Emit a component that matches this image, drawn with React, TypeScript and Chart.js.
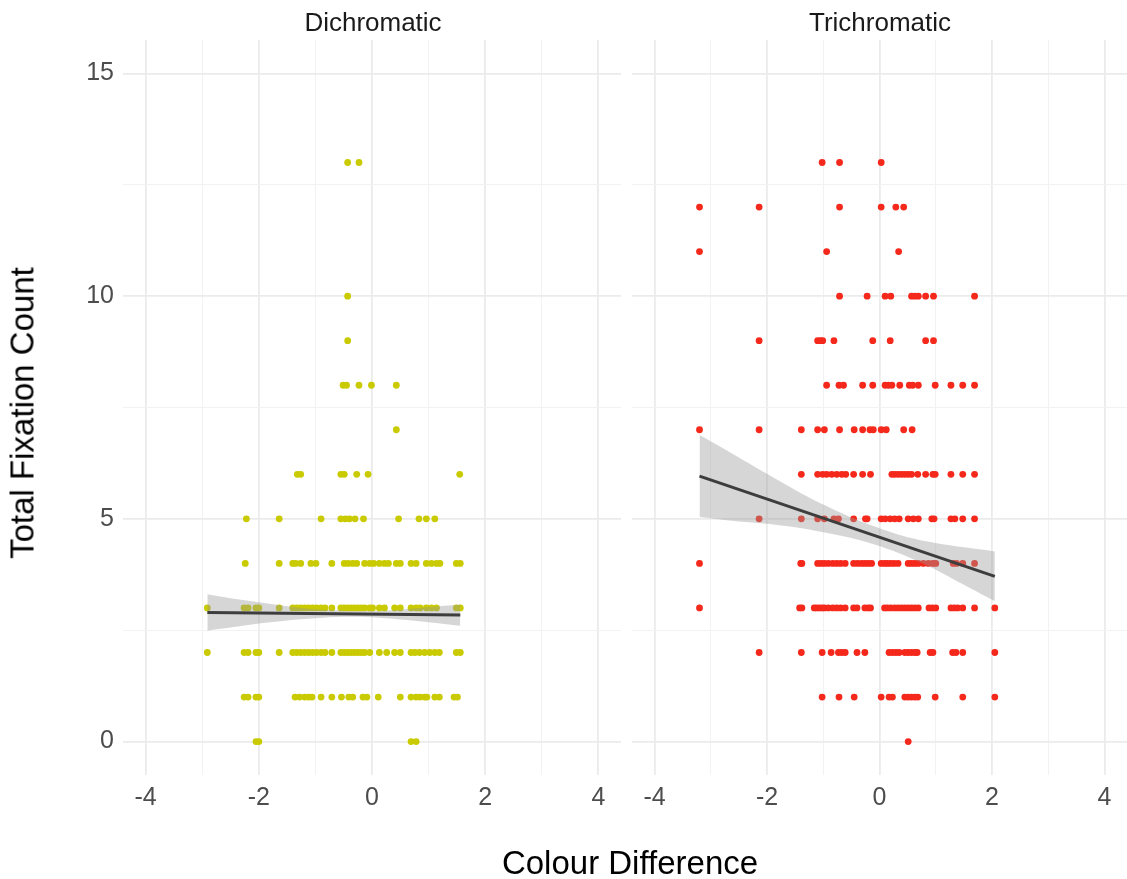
import React, { useEffect, useRef } from "react";
import { Chart, registerables } from "chart.js";

Chart.register(...registerables);

// ---------- data ----------
const xTickLabels = [-4, -2, 0, 2, 4];
const yTickLabels = [0, 5, 10, 15];
const panelTitles = ["Dichromatic", "Trichromatic"];

// Total fixation count levels (y) and the colour-difference values (x) of each point on that level
const fixationLevels = [0, 1, 2, 3, 4, 5, 6, 7, 8, 9, 10, 11, 12, 13];

const dichromaticX: number[][] = [
  [-2.05, -2.0, 0.69, 0.78],
  [-2.26, -2.19, -2.05, -2.0, -1.36, -1.28, -1.19, -1.12, -1.06, -0.9, -0.71, -0.54, -0.41, -0.34, -0.16, -0.09, 0.11, 0.5, 0.69, 0.78, 0.85, 0.93, 0.97, 1.11, 1.19, 1.45, 1.51],
  [-2.91, -2.26, -2.19, -2.05, -2.0, -1.64, -1.4, -1.33, -1.26, -1.19, -1.12, -1.05, -0.98, -0.9, -0.83, -0.71, -0.55, -0.49, -0.43, -0.37, -0.31, -0.25, -0.19, -0.13, -0.04, 0.13, 0.26, 0.4, 0.5, 0.69, 0.76, 0.84, 0.93, 1.02, 1.11, 1.19, 1.49, 1.56],
  [-2.91, -2.26, -2.19, -2.05, -2.0, -1.64, -1.4, -1.33, -1.26, -1.19, -1.12, -1.05, -0.98, -0.9, -0.83, -0.71, -0.55, -0.49, -0.43, -0.37, -0.31, -0.25, -0.19, -0.13, -0.04, 0.01, 0.13, 0.22, 0.4, 0.5, 0.69, 0.78, 0.85, 0.96, 1.05, 1.14, 1.49, 1.56],
  [-2.24, -1.64, -1.4, -1.35, -1.26, -1.08, -0.99, -0.71, -0.49, -0.42, -0.34, -0.27, -0.13, -0.04, 0.03, 0.13, 0.22, 0.29, 0.43, 0.5, 0.69, 0.78, 0.96, 1.05, 1.14, 1.2, 1.49, 1.56],
  [-2.22, -1.64, -0.9, -0.55, -0.47, -0.4, -0.3, -0.15, 0.47, 0.83, 0.96, 1.11],
  [-1.32, -1.26, -0.55, -0.49, -0.27, -0.07, 1.55],
  [0.43],
  [-0.51, -0.45, -0.23, -0.01, 0.43],
  [-0.43],
  [-0.43],
  [],
  [],
  [-0.43, -0.23],
];

const trichromaticX: number[][] = [
  [0.51],
  [-1.02, -0.72, -0.45, 0.03, 0.17, 0.23, 0.45, 0.51, 0.57, 0.63, 0.68, 0.99, 1.48, 2.05],
  [-2.14, -1.39, -1.02, -0.86, -0.73, -0.67, -0.61, -0.4, -0.26, 0.17, 0.23, 0.29, 0.35, 0.45, 0.51, 0.57, 0.63, 0.67, 0.9, 0.95, 1.3, 1.36, 1.48, 2.05],
  [-3.2, -1.42, -1.38, -1.16, -1.12, -1.07, -1.02, -0.98, -0.91, -0.83, -0.76, -0.69, -0.61, -0.46, -0.4, -0.26, -0.2, -0.16, 0.09, 0.14, 0.2, 0.27, 0.33, 0.39, 0.45, 0.51, 0.57, 0.63, 0.69, 0.88, 0.94, 1.0, 1.27, 1.33, 1.39, 1.48, 1.69, 2.05],
  [-3.2, -1.4, -1.38, -1.1, -1.04, -0.98, -0.91, -0.83, -0.76, -0.69, -0.61, -0.46, -0.39, -0.32, -0.26, -0.2, -0.14, 0.03, 0.09, 0.14, 0.2, 0.26, 0.33, 0.51, 0.57, 0.63, 0.69, 0.78, 0.87, 0.95, 1.0, 1.31, 1.37, 1.48, 1.69],
  [-2.14, -1.39, -1.1, -0.98, -0.81, -0.73, -0.46, -0.25, -0.22, 0.03, 0.1, 0.19, 0.27, 0.35, 0.51, 0.6, 0.69, 0.93, 0.97, 1.27, 1.34, 1.48, 1.69],
  [-1.39, -1.1, -1.01, -0.94, -0.85, -0.76, -0.67, -0.6, -0.46, -0.3, -0.16, 0.22, 0.27, 0.33, 0.39, 0.45, 0.51, 0.57, 0.68, 0.82, 0.95, 0.99, 1.27, 1.48, 1.69],
  [-3.2, -2.14, -1.39, -1.1, -0.98, -0.71, -0.45, -0.3, -0.17, -0.11, 0.03, 0.12, 0.43, 0.58],
  [-0.94, -0.72, -0.64, -0.3, -0.12, 0.1, 0.16, 0.22, 0.36, 0.53, 0.59, 0.69, 0.99, 1.27, 1.48, 1.69],
  [-2.14, -1.1, -1.05, -1.01, -0.81, -0.12, 0.19, 0.82, 0.96],
  [-0.71, -0.22, 0.1, 0.2, 0.57, 0.63, 0.69, 0.82, 0.96, 1.69],
  [-3.2, -0.94, 0.34],
  [-3.2, -2.14, -0.71, 0.03, 0.29, 0.43],
  [-1.02, -0.71, 0.03],
];

// fitted linear trend (endpoints) and its confidence band
const dichromaticFitX = [-2.91, 1.56];
const dichromaticFitY = [2.9, 2.84];
const dichromaticBandX = [-2.91, -2.5, -2, -1.5, -1, -0.5, 0, 0.5, 1, 1.56];
const dichromaticBandUpper = [3.31, 3.22, 3.13, 3.04, 2.97, 2.94, 2.93, 2.96, 3.02, 3.08];
const dichromaticBandLower = [2.49, 2.56, 2.65, 2.72, 2.77, 2.8, 2.79, 2.74, 2.68, 2.6];

const trichromaticFitX = [-3.2, 2.05];
const trichromaticFitY = [5.96, 3.71];
const trichromaticBandX = [-3.2, -2.5, -2, -1.5, -1, -0.5, 0, 0.5, 1, 1.5, 2.05];
const trichromaticBandUpper = [6.88, 6.38, 6.01, 5.65, 5.32, 5.03, 4.79, 4.59, 4.46, 4.36, 4.27];
const trichromaticBandLower = [5.04, 4.94, 4.89, 4.81, 4.7, 4.57, 4.39, 4.15, 3.86, 3.52, 3.15];

// ---------- styling ----------
const FONT = "'Liberation Sans', Arial, Helvetica, sans-serif";
const GRID_MAJOR = "#EBEBEB";
const GRID_MINOR = "#F2F2F2";

type PanelProps = {
  left: number;
  width: number;
  yAxisWidth: number;
  showYLabels: boolean;
  xs: number[][];
  color: string;
  fitX: number[];
  fitY: number[];
  bandX: number[];
  bandUpper: number[];
  bandLower: number[];
};

function Panel(p: PanelProps) {
  const ref = useRef<HTMLCanvasElement | null>(null);
  useEffect(() => {
    if (!ref.current) return;
    const points: { x: number; y: number }[] = [];
    p.xs.forEach((row, i) => row.forEach((x) => points.push({ x, y: fixationLevels[i] })));
    const chart = new Chart(ref.current, {
      type: "scatter",
      data: {
        datasets: [
          {
            type: "line",
            data: p.fitX.map((x, i) => ({ x, y: p.fitY[i] })),
            borderColor: "#3D3D3D",
            borderWidth: 3,
            pointRadius: 0,
            showLine: true,
            fill: false,
          } as any,
          {
            type: "line",
            data: p.bandX.map((x, i) => ({ x, y: p.bandUpper[i] })),
            borderWidth: 0,
            borderColor: "rgba(0,0,0,0)",
            backgroundColor: "rgba(153,153,153,0.4)",
            pointRadius: 0,
            showLine: true,
            tension: 0.3,
            fill: "+1",
          } as any,
          {
            type: "line",
            data: p.bandX.map((x, i) => ({ x, y: p.bandLower[i] })),
            borderWidth: 0,
            borderColor: "rgba(0,0,0,0)",
            pointRadius: 0,
            showLine: true,
            tension: 0.3,
            fill: false,
          } as any,
          {
            type: "scatter",
            data: points,
            backgroundColor: p.color,
            borderWidth: 0,
            pointRadius: 3.4,
          } as any,
        ],
      },
      options: {
        animation: false,
        responsive: false,
        maintainAspectRatio: false,
        layout: { padding: { top: 40, left: 0, right: 0, bottom: 0 } },
        plugins: { legend: { display: false }, tooltip: { enabled: false }, title: { display: false } },
        scales: {
          x: {
            type: "linear",
            min: -4.4,
            max: 4.4,
            afterFit: (s: any) => {
              s.height = 104;
            },
            border: { display: false },
            grid: {
              drawTicks: false,
              color: (c: any) => (c.tick && Math.abs(c.tick.value % 2) < 1e-6 ? GRID_MAJOR : GRID_MINOR),
              lineWidth: (c: any) => (c.tick && Math.abs(c.tick.value % 2) < 1e-6 ? 1.8 : 1),
            },
            ticks: {
              stepSize: 1,
              includeBounds: false,
              autoSkip: false,
              maxRotation: 0,
              padding: 8,
              color: "#4D4D4D",
              font: { family: FONT, size: 25 },
              callback: (v: any) => (xTickLabels.includes(Number(v)) ? String(v) : ""),
            },
          },
          y: {
            type: "linear",
            min: -0.75,
            max: 15.75,
            afterFit: (s: any) => {
              s.width = p.yAxisWidth;
            },
            border: { display: false },
            grid: {
              drawTicks: false,
              color: (c: any) => (c.tick && Math.abs(c.tick.value % 5) < 1e-6 ? GRID_MAJOR : GRID_MINOR),
              lineWidth: (c: any) => (c.tick && Math.abs(c.tick.value % 5) < 1e-6 ? 1.8 : 1),
            },
            ticks: {
              display: p.showYLabels,
              stepSize: 2.5,
              includeBounds: false,
              autoSkip: false,
              padding: 9,
              color: "#4D4D4D",
              font: { family: FONT, size: 25 },
              callback: (v: any) => (yTickLabels.includes(Number(v)) ? String(v) : ""),
            },
          },
        },
      } as any,
    });
    return () => chart.destroy();
  }, []);
  return (
    <canvas
      ref={ref}
      width={p.width}
      height={879}
      style={{ position: "absolute", left: p.left, top: 0, width: p.width, height: 879, display: "block" }}
    />
  );
}

const textBase: React.CSSProperties = {
  position: "absolute",
  fontFamily: FONT,
  whiteSpace: "nowrap",
  lineHeight: 1,
};

export default function App() {
  return (
    <div style={{ position: "absolute", left: 0, top: 0, width: 1127, height: 879, background: "#FFFFFF", overflow: "hidden" }}>
      <Panel
        left={0}
        width={625}
        yAxisWidth={123}
        showYLabels={true}
        xs={dichromaticX}
        color="#C9CB00"
        fitX={dichromaticFitX}
        fitY={dichromaticFitY}
        bandX={dichromaticBandX}
        bandUpper={dichromaticBandUpper}
        bandLower={dichromaticBandLower}
      />
      <Panel
        left={627}
        width={504}
        yAxisWidth={5}
        showYLabels={false}
        xs={trichromaticX}
        color="#F5281C"
        fitX={trichromaticFitX}
        fitY={trichromaticFitY}
        bandX={trichromaticBandX}
        bandUpper={trichromaticBandUpper}
        bandLower={trichromaticBandLower}
      />
      <div style={{ ...textBase, left: 373, top: 22, fontSize: 26, color: "#1A1A1A", transform: "translate(-50%,-50%)" }}>
        {panelTitles[0]}
      </div>
      <div style={{ ...textBase, left: 880, top: 22, fontSize: 26, color: "#1A1A1A", transform: "translate(-50%,-50%)" }}>
        {panelTitles[1]}
      </div>
      <div style={{ ...textBase, left: 630, top: 862, fontSize: 33, color: "#000000", transform: "translate(-50%,-50%)" }}>
        Colour Difference
      </div>
      <div
        style={{
          ...textBase,
          left: 22,
          top: 413,
          fontSize: 33,
          color: "#000000",
          transform: "translate(-50%,-50%) rotate(-90deg)",
        }}
      >
        Total Fixation Count
      </div>
    </div>
  );
}
